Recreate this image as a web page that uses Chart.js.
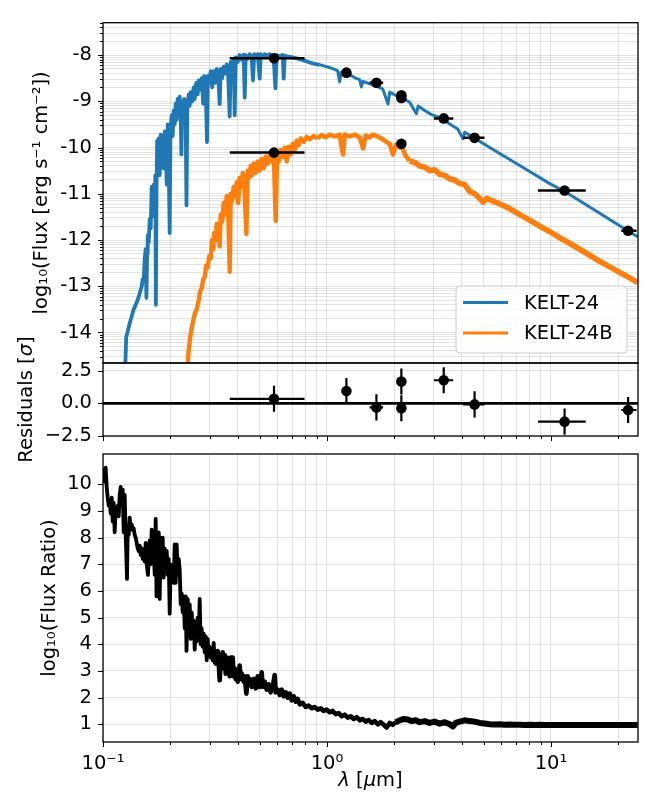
<!DOCTYPE html>
<html>
<head>
<meta charset="utf-8">
<title>KELT-24 spectral energy distribution</title>
<script src="https://cdn.jsdelivr.net/npm/chart.js@4.4.1/dist/chart.umd.min.js"></script>
<style>
  html, body { margin: 0; padding: 0; background: #ffffff; }
  #figure { position: relative; width: 655px; height: 802px; }
  #figure canvas { position: absolute; left: 0; top: 0; }
</style>
</head>
<body>
<div id="figure">
  <canvas id="sedPanel" width="655" height="802"></canvas>
  <canvas id="residualPanel" width="655" height="802"></canvas>
  <canvas id="ratioPanel" width="655" height="802"></canvas>
</div>
<script>
// ---------------- model spectra (wavelength in micron, log10 flux) ----------------
const kelt24Wave = [
  0.12435, 0.12602, 0.12693, 0.12890, 0.13158, 0.13431, 0.13710, 0.13995, 0.14286, 0.14583,
  0.14886, 0.15039, 0.15195, 0.15352, 0.15510, 0.15622, 0.15735, 0.15833, 0.15996, 0.16161,
  0.16328, 0.16497, 0.16668, 0.16840, 0.17014, 0.17120, 0.17225, 0.17331, 0.17456, 0.17600,
  0.17728, 0.17911, 0.18096, 0.18283, 0.18472, 0.18663, 0.18856, 0.19050, 0.19247, 0.19446,
  0.19647, 0.19850, 0.20014, 0.20262, 0.20472, 0.20683, 0.20897, 0.21113, 0.21331, 0.21551,
  0.21774, 0.21999, 0.22226, 0.22386, 0.22571, 0.22805, 0.23040, 0.23399, 0.23592, 0.23787,
  0.24131, 0.24381, 0.24633, 0.25015, 0.25404, 0.25666, 0.26065, 0.26470, 0.26744, 0.27160,
  0.27581, 0.28010, 0.28299, 0.28739, 0.29125, 0.29395, 0.29792, 0.30254, 0.30724, 0.31202,
  0.31687, 0.32179, 0.32679, 0.33186, 0.33529, 0.34050, 0.34579, 0.35116, 0.35662, 0.36216,
  0.36779, 0.37159, 0.37736, 0.38322, 0.38718, 0.39118, 0.39931, 0.40760, 0.41607, 0.42472,
  0.42911, 0.43355, 0.44256, 0.45176, 0.46115, 0.46737, 0.47317, 0.48051, 0.49050, 0.50069,
  0.50586, 0.51638, 0.52711, 0.54363, 0.55493, 0.56646, 0.57823, 0.58840, 0.59630, 0.61504,
  0.63431, 0.64087, 0.64749, 0.68166, 0.71764, 0.75550, 0.7950, 0.8372, 0.8813, 0.9278,
  0.9768, 1.0282, 1.0824, 1.1163, 1.1395, 1.1571, 1.2207, 1.2892, 1.3434, 1.3995,
  1.4243, 1.4465, 1.5508, 1.6619, 1.7727, 1.8727, 1.9057, 2.0060, 2.1482, 2.2233,
  2.3398, 2.5067, 2.5535, 2.7306, 2.9342, 3.2953, 3.5298, 3.8323, 4.0467, 4.1180,
  4.5645, 5.3265, 6.5416, 8.0336, 9.8673, 11.515, 13.432, 16.498, 20.265, 24.381
];
const kelt24Flux = [
  -15.2, -14.6, -14.1, -13.98, -13.8, -13.65, -13.5, -13.4, -13.3, -13.15,
  -13.0, -12.85, -12.9, -12.4, -12.2, -13.25, -12.3, -11.9, -12.05, -11.55,
  -11.75, -10.85, -11.35, -10.8, -11.5, -10.6, -13.4, -10.9, -9.85, -10.3,
  -9.8, -10.6, -9.72, -10.2, -9.75, -10.45, -9.65, -9.95, -10.8, -9.5,
  -10.3, -11.85, -9.6, -9.3, -9.75, -9.2, -9.5, -9.05, -9.4, -8.95,
  -9.2, -8.9, -9.3, -10.15, -9.0, -9.4, -8.95, -9.5, -11.25, -9.1,
  -8.85, -9.1, -8.8, -9.0, -8.7, -8.95, -8.6, -8.85, -8.55, -8.75,
  -8.5, -9.05, -8.45, -8.7, -9.88, -8.45, -8.6, -8.35, -8.7, -8.35,
  -8.6, -8.3, -8.45, -9.06, -8.3, -8.5, -8.25, -8.4, -8.2, -8.45,
  -9.33, -8.15, -8.3, -8.1, -9.3, -8.05, -8.15, -8.0, -8.1, -7.99,
  -8.92, -8.0, -8.08, -7.98, -8.05, -8.55, -7.98, -8.04, -7.98, -8.51,
  -7.98, -8.03, -7.98, -8.02, -7.98, -8.02, -8.08, -8.72, -8.0, -8.02,
  -8.0, -8.51, -8.02, -8.04, -8.06, -8.09, -8.12, -8.16, -8.19, -8.21,
  -8.24, -8.27, -8.31, -8.34, -8.58, -8.37, -8.39, -8.45, -8.5, -8.53,
  -8.69, -8.57, -8.62, -8.67, -8.73, -9.06, -8.8, -8.86, -8.92, -8.96,
  -9.02, -9.27, -9.1, -9.2, -9.29, -9.38, -9.49, -9.6, -9.81, -9.67,
  -9.80, -10.0, -10.26, -10.52, -10.78, -10.95, -11.15, -11.42, -11.69, -11.93
];
const kelt24bWave = [
  0.23762, 0.24008, 0.24256, 0.24507, 0.24887, 0.25274, 0.25666, 0.26200, 0.26744, 0.27160,
  0.27581, 0.28010, 0.28445, 0.28887, 0.29336, 0.29792, 0.30254, 0.30724, 0.31042, 0.31363,
  0.31850, 0.32179, 0.32679, 0.33186, 0.33529, 0.34050, 0.34579, 0.35116, 0.35662, 0.36216,
  0.36779, 0.37159, 0.37736, 0.38322, 0.38918, 0.39522, 0.40136, 0.40760, 0.41392, 0.42037,
  0.42692, 0.43666, 0.44256, 0.44943, 0.45642, 0.46352, 0.47073, 0.48051, 0.49050, 0.50069,
  0.51110, 0.52172, 0.53256, 0.54363, 0.55493, 0.56646, 0.57823, 0.59025, 0.59944, 0.60877,
  0.62140, 0.63431, 0.64749, 0.66094, 0.67467, 0.68869, 0.70300, 0.71764, 0.73254, 0.74778,
  0.76331, 0.78711, 0.81163, 0.8372, 0.8722, 0.9090, 0.9470, 0.9867, 1.0282, 1.0824,
  1.1395, 1.1789, 1.1996, 1.2628, 1.3297, 1.3995, 1.4480, 1.4885, 1.5508, 1.6042,
  1.6839, 1.7727, 1.8419, 1.9057, 1.9712, 2.0268, 2.1115, 2.1777, 2.2462, 2.3398,
  2.4633, 2.5932, 2.7306, 2.8741, 3.0258, 3.1853, 3.3533, 3.5298, 3.7160, 3.9121,
  4.1180, 4.3357, 4.5645, 4.8053, 4.9711, 5.1641, 5.4372, 5.9021, 6.5416, 7.2491,
  8.0336, 8.9033, 9.8673, 10.935, 12.119, 13.432, 14.887, 16.498, 18.285, 20.265,
  22.459, 24.381
];
const kelt24bFlux = [
  -15.2, -14.5, -14.3, -14.1, -13.9, -13.75, -13.6, -13.5, -13.3, -13.1,
  -13.05, -12.85, -12.8, -12.55, -12.6, -12.35, -12.4, -12.0, -12.2, -11.85,
  -12.0, -11.65, -11.8, -12.14, -11.45, -11.6, -11.2, -11.45, -11.05, -11.3,
  -12.69, -11.0, -11.15, -10.85, -11.05, -10.75, -11.2, -10.65, -10.85, -10.55,
  -10.75, -11.87, -10.5, -10.65, -10.4, -10.6, -10.35, -10.55, -10.3, -10.5,
  -10.25, -10.45, -10.2, -10.35, -10.15, -10.3, -10.11, -11.59, -10.1, -10.3,
  -10.05, -10.2, -10.0, -10.3, -9.98, -10.15, -9.92, -10.05, -9.85, -9.95,
  -9.8, -9.88, -9.77, -9.82, -9.75, -9.8, -9.73, -9.78, -9.72, -9.76,
  -9.72, -10.15, -9.72, -9.76, -9.72, -9.78, -10.02, -9.74, -9.78, -9.72,
  -9.76, -9.82, -9.88, -9.92, -10.15, -9.94, -9.99, -10.02, -10.18, -10.29,
  -10.32, -10.4, -10.42, -10.5, -10.48, -10.58, -10.6, -10.68, -10.7, -10.78,
  -10.8, -10.95, -11.0, -11.1, -11.18, -11.1, -11.15, -11.22, -11.32, -11.45,
  -11.57, -11.7, -11.82, -11.95, -12.07, -12.2, -12.33, -12.46, -12.58, -12.7,
  -12.82, -12.92
];

// ---------------- photometry ----------------
const photWave   = [0.580, 1.221, 1.662, 2.148, 2.148, 3.32, 4.56, 11.5, 22.1];
const photWaveLo = [0.368, 1.17, 1.55, 2.10, 2.10, 3.00, 4.05, 8.75, 20.6];
const photWaveHi = [0.794, 1.28, 1.78, 2.20, 2.20, 3.66, 5.05, 14.3, 24.1];
const photFlux   = [-8.07, -8.38, -8.60, -8.87, -8.93, -9.37, -9.79, -10.93, -11.80];
const residual    = [0.35, 0.95, -0.31, 1.67, -0.38, 1.77, -0.08, -1.40, -0.51];
const residualErr = [1, 1, 1, 1, 1, 1, 1, 1, 1];

const compWave   = [0.580, 2.148];
const compWaveLo = [0.368, 2.148];
const compWaveHi = [0.794, 2.148];
const compFlux   = [-10.11, -9.92];

// ---------------- flux ratio (log10 primary / companion) ----------------
const ratioWave = [
  0.10000, 0.10072, 0.10176, 0.10281, 0.10388, 0.10495, 0.10603, 0.10713, 0.10824, 0.10936,
  0.11049, 0.11163, 0.11278, 0.11395, 0.11512, 0.11631, 0.11751, 0.11873, 0.11995, 0.12119,
  0.12245, 0.12371, 0.12499, 0.12628, 0.12798, 0.12890, 0.13024, 0.13158, 0.13294, 0.13431,
  0.13570, 0.13710, 0.13852, 0.13995, 0.14140, 0.14286, 0.14434, 0.14583, 0.14733, 0.14886,
  0.15039, 0.15195, 0.15352, 0.15510, 0.15671, 0.15881, 0.15996, 0.16161, 0.16328, 0.16497,
  0.16668, 0.16840, 0.17014, 0.17189, 0.17331, 0.17456, 0.17600, 0.17728, 0.17911, 0.18096,
  0.18283, 0.18472, 0.18663, 0.18856, 0.19050, 0.19247, 0.19446, 0.19647, 0.19850, 0.20055,
  0.20262, 0.20472, 0.20683, 0.20897, 0.21113, 0.21331, 0.21551, 0.21774, 0.21999, 0.22226,
  0.22456, 0.22688, 0.22922, 0.23159, 0.23399, 0.23592, 0.23885, 0.24131, 0.24381, 0.24633,
  0.24887, 0.25144, 0.25404, 0.25666, 0.25932, 0.26200, 0.26470, 0.26744, 0.27020, 0.27299,
  0.27581, 0.27866, 0.28154, 0.28445, 0.28739, 0.29036, 0.29336, 0.29639, 0.29945, 0.30254,
  0.30567, 0.30883, 0.31202, 0.31524, 0.31850, 0.32179, 0.32511, 0.32847, 0.33186, 0.33529,
  0.33876, 0.34226, 0.34579, 0.34936, 0.35297, 0.35662, 0.36030, 0.36403, 0.36779, 0.37159,
  0.37543, 0.37930, 0.38322, 0.38718, 0.39118, 0.39522, 0.39931, 0.40760, 0.41181, 0.41607,
  0.42472, 0.42911, 0.43666, 0.44256, 0.44713, 0.45176, 0.46115, 0.47073, 0.48051, 0.49050,
  0.50069, 0.51110, 0.51638, 0.52711, 0.53807, 0.54925, 0.56066, 0.57231, 0.58420, 0.59025,
  0.60252, 0.61504, 0.62782, 0.64087, 0.65419, 0.66778, 0.68166, 0.69583, 0.71029, 0.72505,
  0.74012, 0.75550, 0.77916, 0.80356, 0.82873, 0.85470, 0.8815, 0.9090, 0.9375, 0.9669,
  0.9972, 1.0282, 1.0604, 1.0936, 1.1278, 1.1631, 1.1996, 1.2371, 1.2758, 1.3158,
  1.3570, 1.3995, 1.4433, 1.4885, 1.5351, 1.5832, 1.6327, 1.6839, 1.7366, 1.7910,
  1.8471, 1.9049, 1.9646, 2.0261, 2.1115, 2.2006, 2.2923, 2.3885, 2.4887, 2.5932,
  2.7306, 2.8741, 3.0258, 3.1853, 3.3533, 3.5298, 3.6517, 3.7543, 3.9121, 4.1180,
  4.3357, 4.5645, 4.8053, 5.0590, 5.3265, 5.6076, 5.9021, 6.2135, 6.5416, 6.8866,
  7.2491, 7.6318, 8.0336, 8.4578, 8.9033, 9.3734, 9.8673, 10.388, 10.935, 11.515,
  12.119, 12.760, 13.432, 14.140, 14.887, 15.671, 16.498, 17.367, 18.285, 19.248,
  20.265, 21.333, 22.459, 23.641, 24.381
];
const ratioValue = [
  10.2, 10.55, 10.1, 10.62, 9.9, 9.5, 9.2, 9.4, 8.9, 9.5,
  8.6, 9.3, 8.2, 9.1, 8.9, 9.2, 8.8, 9.6, 9.9, 9.2,
  9.8, 8.2, 9.6, 8.1, 6.45, 8.3, 8.1, 8.75, 8.3, 8.5,
  8.3, 8.35, 8.1, 8.0, 7.8, 7.6, 7.5, 7.7, 7.35, 7.6,
  7.2, 7.5, 7.1, 7.8, 7.0, 6.6, 7.3, 7.9, 7.0, 8.3,
  7.2, 7.6, 6.6, 8.7, 5.8, 7.9, 6.2, 8.2, 5.7, 8.0,
  7.3, 8.0, 6.5, 7.6, 7.0, 7.5, 6.6, 7.2, 5.15, 7.0,
  6.4, 6.9, 6.3, 7.75, 6.3, 7.75, 6.6, 7.2, 6.8, 5.5,
  5.9, 5.2, 5.8, 4.6, 5.8, 3.75, 5.7, 4.8, 5.5, 4.2,
  5.2, 4.4, 4.9, 3.8, 4.6, 4.1, 5.0, 4.3, 5.7, 4.0,
  4.6, 3.9, 4.4, 3.7, 4.3, 3.4, 4.2, 3.6, 3.9, 3.5,
  3.8, 3.4, 4.05, 3.3, 3.6, 3.2, 3.75, 3.3, 2.65, 3.4,
  3.2, 3.7, 3.1, 3.6, 2.9, 3.5, 3.0, 3.2, 2.8, 3.5,
  2.9, 3.5, 2.8, 3.1, 2.7, 3.0, 2.6, 3.2, 2.7, 2.9,
  2.6, 2.8, 2.15, 2.8, 2.5, 2.7, 2.4, 2.7, 2.35, 2.8,
  2.4, 2.95, 2.4, 2.6, 2.3, 2.5, 2.2, 2.4, 2.85, 2.2,
  2.3, 2.1, 2.3, 2.05, 2.2, 2.0, 2.15, 1.9, 2.05, 1.85,
  1.95, 1.75, 1.8, 1.65, 1.7, 1.6, 1.65, 1.55, 1.6, 1.5,
  1.55, 1.45, 1.5, 1.38, 1.42, 1.3, 1.36, 1.25, 1.3, 1.2,
  1.27, 1.15, 1.2, 1.1, 1.16, 1.05, 1.12, 1.0, 1.08, 0.98,
  0.88, 1.05, 0.98, 1.08, 1.15, 1.2, 1.18, 1.12, 1.15, 1.08,
  1.12, 1.05, 1.1, 1.02, 1.08, 1.0, 0.92, 1.05, 1.1, 1.15,
  1.12, 1.1, 1.05, 1.03, 1.0, 0.99, 1.0, 0.98, 0.99, 0.98,
  0.985, 0.975, 0.98, 0.975, 0.98, 0.975, 0.975, 0.97, 0.975, 0.97,
  0.975, 0.97, 0.975, 0.97, 0.975, 0.97, 0.975, 0.97, 0.975, 0.97,
  0.975, 0.97, 0.975, 0.97, 0.97
];

// ---------------- axes ----------------
const X_MIN = 0.1, X_MAX = 24.46;
const xMajorTicks = [0.1, 1, 10];
const xMinorTicks = [0.2, 0.3, 0.4, 0.5, 0.6, 0.7, 0.8, 0.9, 2, 3, 4, 5, 6, 7, 8, 9, 20];
const xTickLabels = ['10⁻¹', '10⁰', '10¹'];

const SED_MIN = -14.66, SED_MAX = -7.30;
const sedMajorTicks = [-14, -13, -12, -11, -10, -9, -8];
const sedTickLabels = ['-14', '-13', '-12', '-11', '-10', '-9', '-8'];

const RES_MIN = -2.5, RES_MAX = 3.09;
const residualTicks = [-2.5, 0, 2.5];
const residualTickLabels = ['−2.5', '0.0', '2.5'];

const RATIO_MIN = 0.336, RATIO_MAX = 11.136;
const ratioTicks = [1, 2, 3, 4, 5, 6, 7, 8, 9, 10];
const ratioTickLabels = ['1', '2', '3', '4', '5', '6', '7', '8', '9', '10'];

const legendNames = ['KELT-24', 'KELT-24B'];

// ---------------- styling ----------------
const FONT_FAMILY = "'DejaVu Sans', 'Liberation Sans', sans-serif";
const FS = 19.5;
const BLUE = '#1f77b4', ORANGE = '#ff7f0e';
const GRID = 'rgba(0,0,0,0.11)';
const PLOT_LEFT = 103, PAD_RIGHT = 17;

Chart.defaults.font.family = FONT_FAMILY;
Chart.defaults.font.size = FS;
Chart.defaults.color = '#000';

// minor ticks of a logarithmic flux axis, shown on the log10 scale
const sedMinorTicks = [];
for (let n = -15; n <= -8; n++) {
  for (let k = 2; k <= 9; k++) {
    const v = n + Math.log10(k);
    if (v > SED_MIN && v < SED_MAX) sedMinorTicks.push(v);
  }
}

function zip(xs, ys) { return xs.map((x, i) => ({ x: x, y: ys[i] })); }
function tickList(major, minor) {
  return major.map(v => ({ value: v, major: true }))
    .concat(minor.map(v => ({ value: v, major: false })))
    .sort((a, b) => a.value - b.value);
}
function labelFrom(values, labels) {
  return v => {
    const i = values.findIndex(m => Math.abs(m - v) < 1e-9);
    return i >= 0 ? labels[i] : '';
  };
}
function fontStr(italic) { return (italic ? 'italic ' : '') + FS + 'px ' + FONT_FAMILY; }
// stroke width that follows the wavelength: the noisy parts of a spectrum read as a band
function widthByWave(limits, widths) {
  return c => {
    const x = c.p0.parsed.x;
    for (let i = 0; i < limits.length; i++) if (x < limits[i]) return widths[i];
    return widths[widths.length - 1];
  };
}

function xAxis(withLabels) {
  return {
    type: 'logarithmic', min: X_MIN, max: X_MAX, bounds: 'data',
    afterBuildTicks(scale) { scale.ticks = tickList(xMajorTicks, xMinorTicks); },
    afterFit(scale) { scale.height = withLabels ? 60 : 0; },
    ticks: {
      display: withLabels, autoSkip: false, maxRotation: 0, minRotation: 0,
      padding: 10, color: '#000', font: { family: FONT_FAMILY, size: FS },
      callback: labelFrom(xMajorTicks, xTickLabels)
    },
    grid: { color: GRID, lineWidth: 1, drawTicks: false },
    border: { display: false }
  };
}
function yAxis(min, max, major, minor, labels, title) {
  const cfg = {
    type: 'linear', min: min, max: max, bounds: 'data',
    afterBuildTicks(scale) { scale.ticks = tickList(major, minor); },
    afterFit(scale) { scale.width = PLOT_LEFT; },
    ticks: {
      autoSkip: false, padding: 11, color: '#000',
      font: { family: FONT_FAMILY, size: FS },
      callback: labelFrom(major, labels)
    },
    grid: { color: GRID, lineWidth: 1, drawTicks: false },
    border: { display: false }
  };
  if (title) {
    cfg.title = { display: true, text: title.text, color: '#000',
      font: { family: FONT_FAMILY, size: FS }, padding: { top: title.pad, bottom: 0 } };
  }
  return cfg;
}

// spines and outward tick marks
function framePlugin(withXTicks) {
  return {
    id: 'frame',
    afterDraw(chart) {
      const { ctx, chartArea: a, scales } = chart;
      ctx.save();
      ctx.strokeStyle = '#000';
      ctx.lineWidth = 1;
      ctx.beginPath();
      scales.y.ticks.forEach(t => {
        const p = Math.round(scales.y.getPixelForValue(t.value)) + 0.5;
        const len = t.major ? 5 : 3;
        ctx.moveTo(a.left - len, p); ctx.lineTo(a.left, p);
      });
      if (withXTicks) {
        scales.x.ticks.forEach(t => {
          const p = Math.round(scales.x.getPixelForValue(t.value)) + 0.5;
          const len = t.major ? 5 : 3;
          ctx.moveTo(p, a.bottom); ctx.lineTo(p, a.bottom + len);
        });
      }
      ctx.stroke();
      ctx.lineWidth = 1.3;
      ctx.strokeRect(a.left, a.top, a.right - a.left, a.bottom - a.top);
      ctx.restore();
    }
  };
}

// horizontal and vertical error bars drawn through the chart scales
function errorBarPlugin(sets) {
  return {
    id: 'errorBars',
    afterDatasetsDraw(chart) {
      const { ctx, scales: { x, y } } = chart;
      ctx.save();
      ctx.strokeStyle = '#000';
      sets.forEach(s => {
        ctx.lineWidth = s.width;
        ctx.beginPath();
        s.x.forEach((xv, i) => {
          const px = x.getPixelForValue(xv);
          const py = y.getPixelForValue(s.y[i]);
          if (s.xLo && s.xLo[i] !== s.xHi[i]) {
            ctx.moveTo(x.getPixelForValue(s.xLo[i]), py);
            ctx.lineTo(x.getPixelForValue(s.xHi[i]), py);
          }
          if (s.yErr) {
            ctx.moveTo(px, y.getPixelForValue(s.y[i] - s.yErr[i]));
            ctx.lineTo(px, y.getPixelForValue(s.y[i] + s.yErr[i]));
          }
        });
        ctx.stroke();
      });
      ctx.restore();
    }
  };
}

const sedLegend = {
  id: 'sedLegend',
  afterDraw(chart) {
    const { ctx, chartArea: a } = chart;
    const w = 171, h = 67, r = 4;
    const x0 = a.right - 11 - w, y0 = a.bottom - 10 - h;
    ctx.save();
    ctx.beginPath();
    ctx.moveTo(x0 + r, y0);
    ctx.arcTo(x0 + w, y0, x0 + w, y0 + h, r);
    ctx.arcTo(x0 + w, y0 + h, x0, y0 + h, r);
    ctx.arcTo(x0, y0 + h, x0, y0, r);
    ctx.arcTo(x0, y0, x0 + w, y0, r);
    ctx.closePath();
    ctx.fillStyle = 'rgba(255,255,255,0.8)';
    ctx.fill();
    ctx.strokeStyle = '#cccccc';
    ctx.lineWidth = 1;
    ctx.stroke();
    legendNames.forEach((name, i) => {
      const ds = chart.data.datasets.find(d => d.label === name);
      const yy = y0 + 16.5 + i * 30.4;
      ctx.strokeStyle = ds.borderColor;
      ctx.lineWidth = 3;
      ctx.beginPath();
      ctx.moveTo(x0 + 7, yy); ctx.lineTo(x0 + 52, yy);
      ctx.stroke();
      ctx.fillStyle = '#000';
      ctx.font = fontStr(false);
      ctx.textBaseline = 'middle';
      ctx.textAlign = 'left';
      ctx.fillText(name, x0 + 68, yy + 1);
    });
    ctx.restore();
  }
};

// text made of upright and italic pieces (math-style symbols)
function drawMixed(ctx, parts, cx, cy, rotation) {
  ctx.save();
  ctx.translate(cx, cy);
  ctx.rotate(rotation);
  ctx.textBaseline = 'middle';
  ctx.textAlign = 'left';
  ctx.fillStyle = '#000';
  const widths = parts.map(p => { ctx.font = fontStr(p.italic); return ctx.measureText(p.text).width; });
  let x = -widths.reduce((s, v) => s + v, 0) / 2;
  parts.forEach((p, i) => { ctx.font = fontStr(p.italic); ctx.fillText(p.text, x, 0); x += widths[i]; });
  ctx.restore();
}

const common = {
  responsive: false, animation: false, devicePixelRatio: 1, events: [],
  plugins: { legend: { display: false }, tooltip: { enabled: false }, title: { display: false } }
};

// ---------------- top panel: SED ----------------
new Chart(document.getElementById('sedPanel'), {
  type: 'scatter',
  data: {
    datasets: [
      { label: 'photometry', data: zip(photWave, photFlux), pointRadius: 5.3,
        pointBackgroundColor: '#000', pointBorderWidth: 0, order: 0 },
      { label: 'companion photometry', data: zip(compWave, compFlux), pointRadius: 5.3,
        pointBackgroundColor: '#000', pointBorderWidth: 0, order: 0 },
      { label: 'KELT-24B', data: zip(kelt24bWave, kelt24bFlux), showLine: true,
        borderColor: ORANGE, backgroundColor: ORANGE, borderWidth: 4, pointRadius: 0,
        borderJoinStyle: 'round', clip: 0, order: 1,
        segment: { borderWidth: widthByWave([0.9, 2.3], [4.4, 4.6, 5.6]) } },
      { label: 'KELT-24', data: zip(kelt24Wave, kelt24Flux), showLine: true,
        borderColor: BLUE, backgroundColor: BLUE, borderWidth: 3, pointRadius: 0,
        borderJoinStyle: 'round', clip: 0, order: 2,
        segment: { borderWidth: widthByWave([0.9], [3.8, 3.0]) } }
    ]
  },
  options: Object.assign({}, common, {
    layout: { padding: { left: 0, right: PAD_RIGHT, top: 4, bottom: 802 - 363 } },
    scales: {
      x: xAxis(false),
      y: yAxis(SED_MIN, SED_MAX, sedMajorTicks, sedMinorTicks, sedTickLabels,
        { text: 'log₁₀(Flux [erg s⁻¹ cm⁻²])', pad: 29.8 })
    }
  }),
  plugins: [
    errorBarPlugin([
      { x: photWave, y: photFlux, xLo: photWaveLo, xHi: photWaveHi, width: 2.5 },
      { x: compWave, y: compFlux, xLo: compWaveLo, xHi: compWaveHi, width: 2.5 }
    ]),
    sedLegend,
    framePlugin(false)
  ]
});

// ---------------- middle panel: residuals ----------------
const residualDecor = {
  id: 'residualDecor',
  beforeDatasetsDraw(chart) {
    const { ctx, chartArea: a, scales: { y } } = chart;
    const py = y.getPixelForValue(0);
    ctx.save();
    ctx.strokeStyle = '#000';
    ctx.lineWidth = 2.6;
    ctx.beginPath();
    ctx.moveTo(a.left, py); ctx.lineTo(a.right, py);
    ctx.stroke();
    ctx.restore();
  },
  afterDraw(chart) {
    const { ctx, chartArea: a } = chart;
    drawMixed(ctx, [{ text: 'Residuals [', italic: false }, { text: 'σ', italic: true }, { text: ']', italic: false }],
      27, (a.top + a.bottom) / 2, -Math.PI / 2);
  }
};
new Chart(document.getElementById('residualPanel'), {
  type: 'scatter',
  data: {
    datasets: [
      { label: 'residuals', data: zip(photWave, residual), pointRadius: 5.3,
        pointBackgroundColor: '#000', pointBorderWidth: 0 }
    ]
  },
  options: Object.assign({}, common, {
    layout: { padding: { left: 0, right: PAD_RIGHT, top: 363, bottom: 802 - 436 } },
    scales: {
      x: xAxis(false),
      y: yAxis(RES_MIN, RES_MAX, residualTicks, [], residualTickLabels, null)
    }
  }),
  plugins: [
    residualDecor,
    errorBarPlugin([
      { x: photWave, y: residual, xLo: photWaveLo, xHi: photWaveHi, yErr: residualErr, width: 2.2 }
    ]),
    framePlugin(true)
  ]
});

// ---------------- bottom panel: flux ratio ----------------
const ratioDecor = {
  id: 'ratioDecor',
  afterDraw(chart) {
    const { ctx, chartArea: a } = chart;
    drawMixed(ctx, [{ text: 'λ', italic: true }, { text: ' [', italic: false },
      { text: 'μ', italic: true }, { text: 'm]', italic: false }],
      (a.left + a.right) / 2, 781, 0);
  }
};
new Chart(document.getElementById('ratioPanel'), {
  type: 'scatter',
  data: {
    datasets: [
      { label: 'log10 flux ratio', data: zip(ratioWave, ratioValue), showLine: true,
        borderColor: '#000', backgroundColor: '#000', borderWidth: 3, pointRadius: 0,
        borderJoinStyle: 'round', clip: 0,
        segment: { borderWidth: widthByWave([0.32, 2.0], [3.8, 4.6, 6.0]) } }
    ]
  },
  options: Object.assign({}, common, {
    layout: { padding: { left: 0, right: PAD_RIGHT, top: 454, bottom: 0 } },
    scales: {
      x: xAxis(true),
      y: yAxis(RATIO_MIN, RATIO_MAX, ratioTicks, [], ratioTickLabels,
        { text: 'log₁₀(Flux Ratio)', pad: 38.3 })
    }
  }),
  plugins: [ratioDecor, framePlugin(true)]
});
</script>
</body>
</html>
